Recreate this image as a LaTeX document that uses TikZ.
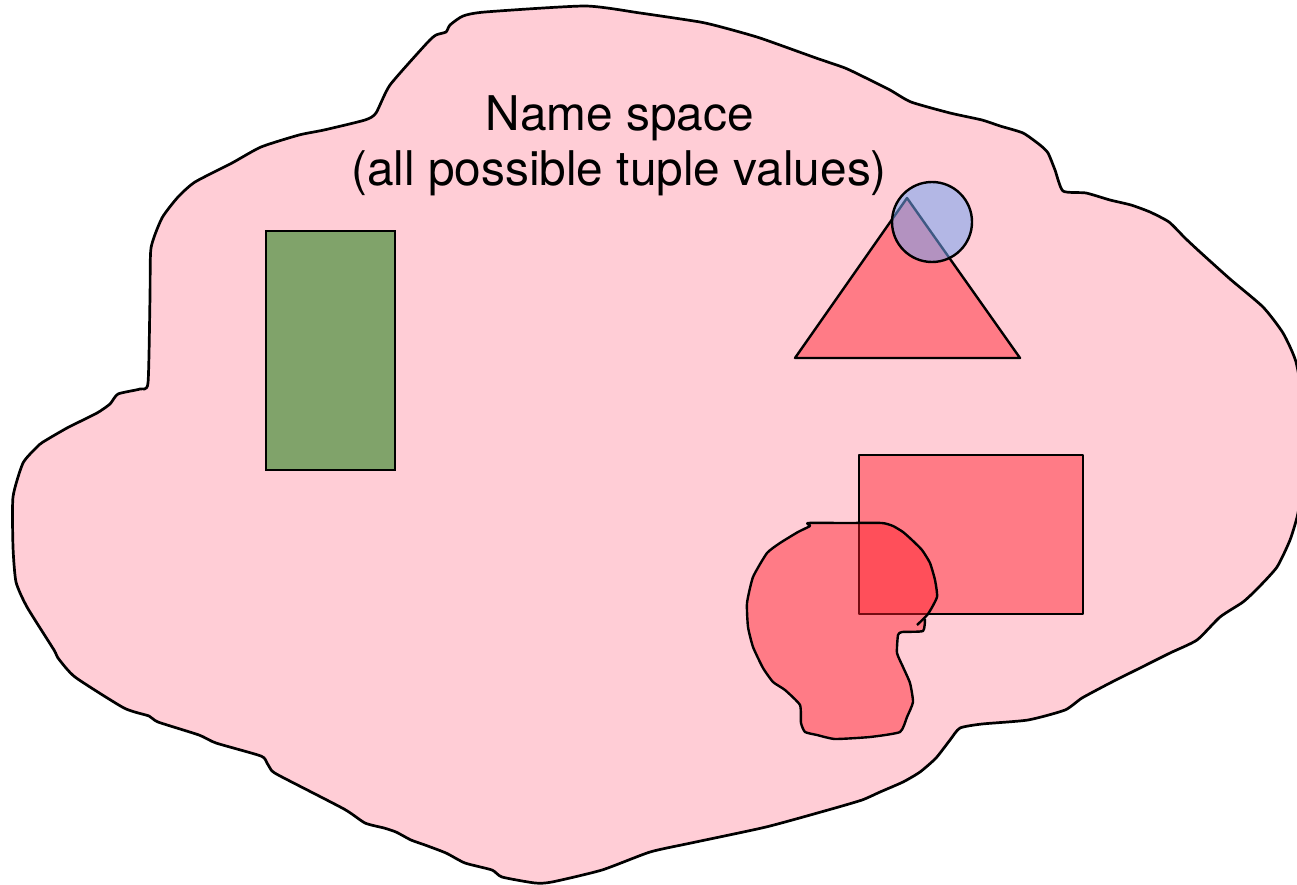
\documentclass[tikz,border=0pt]{standalone}
\usepackage{fontspec}
\setmainfont{TeX Gyre Heros}
\definecolor{spacepink}{RGB}{255,205,214}
\definecolor{setgreen}{RGB}{128,163,106}
\definecolor{setred}{RGB}{255,28,40}
\definecolor{setblue}{RGB}{115,166,243}
\tikzset{
  namespace/.style={fill=spacepink, draw=black, line width=2.7pt, line join=round},
  greenset/.style={fill=setgreen, draw=black, line width=2.4pt},
  redset/.style={fill=setred, fill opacity=0.46, draw=black, line width=2.4pt, line join=round},
  blueset/.style={fill=setblue, fill opacity=0.54, draw=black, line width=2.4pt},
  caption/.style={font=\fontsize{47.8}{55}\selectfont, inner sep=0pt, anchor=base}
}
\begin{document}
\begin{tikzpicture}[x=1pt, y=-1pt]
\useasboundingbox (0,0) rectangle (1297,885);

% the whole name space
\draw[namespace] plot[smooth cycle, tension=0.35] coordinates {
  (585,6) (640,13) (700,22) (725,28) (760,38) (816,58) (845,68) (866,78)
  (890,90) (911,102) (950,113) (982,120) (1000,126) (1023,133) (1040,145)
  (1048,153) (1055,170) (1063,191) (1086,193) (1110,200) (1131,205)
  (1150,212) (1169,222) (1185,238) (1200,252) (1230,279) (1263,307)
  (1283,333) (1296,362) (1304,410) (1304,470) (1298,513) (1290,540)
  (1277,567) (1258,588) (1243,602) (1220,617) (1197,640) (1170,653)
  (1140,668) (1110,683) (1082,698) (1065,710) (1028,720) (982,724)
  (960,728) (950,740) (936,758) (920,772) (903,782) (880,792) (862,800)
  (828,810) (766,827) (691,843) (650,852) (602,870) (552,882) (535,883)
  (502,877) (492,870) (465,863) (446,853) (425,845) (411,840) (396,832)
  (384,828) (365,823) (344,809) (282,777) (272,771) (267,763) (261,756)
  (216,743) (199,735) (158,722) (149,716) (124,708) (75,677) (58,658)
  (54,650) (27,607) (16,582) (13,547) (13,497) (23,463) (37,447) (43,442)
  (67,428) (97,413) (110,404) (118,394) (140,389) (148,383) (150,297)
  (151,248) (162,218) (178,197) (195,182) (232,163) (261,147) (299,135)
  (324,130) (365,120) (376,113) (390,85) (427,43) (436,35) (446,32)
  (450,25) (463,16) (485,12)
};

\node[caption] (title) at (620,131) {Name space};
\node[caption] (subtitle) at (619,186) {(all possible tuple values)};

% green set
\draw[greenset] (266,231) rectangle (395,470);

% triangle and the circle on its apex
\draw[redset] (907,198) -- (1020,358) -- (795,358) -- cycle;
\draw[blueset] (932,222) circle[radius=40];

% rectangle and the irregular set over it
\draw[redset] (859,455) rectangle (1083,614);
\draw[redset] plot[smooth, tension=0.3] coordinates {
  (917,625) (928,614) (937,597) (935,580) (930,563) (922,550) (912,540)
  (903,532) (893,526) (882,523) (845,523) (808,523) (810,526) (798,532)
  (780,543) (767,553) (753,577) (747,603) (748,627) (753,647) (763,668)
  (773,682) (785,690) (800,705) (801,723) (805,732) (817,735) (835,739)
  (870,737) (900,732) (907,717) (913,702) (910,683) (903,667) (897,653)
  (898,635) (902,632) (923,631) (925,619)
};
\end{tikzpicture}
\end{document}
